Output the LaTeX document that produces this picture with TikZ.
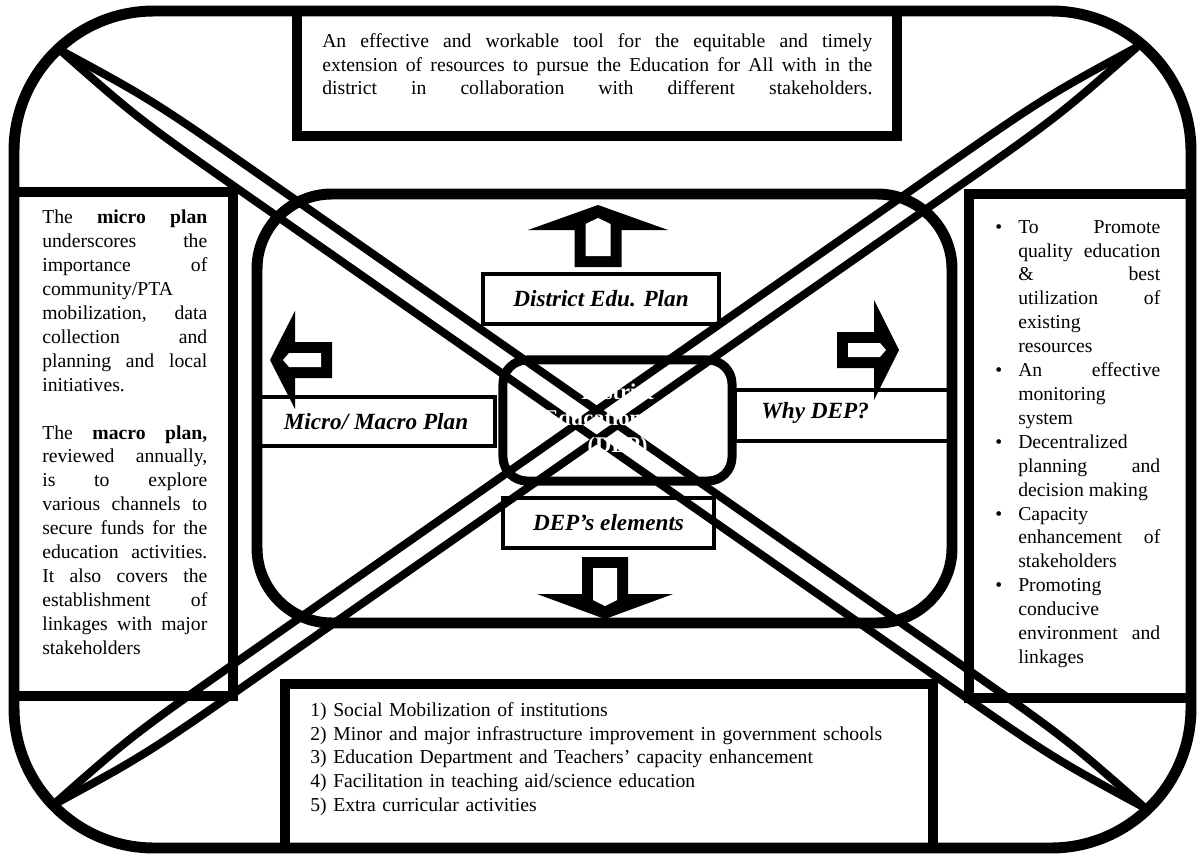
\documentclass[tikz,border=0pt]{standalone}
\usepackage{fontspec}
\setmainfont{Liberation Serif}
\usetikzlibrary{calc, positioning}

% hollow block arrow: tip, rotation, half shaft width, half head width
\newcommand{\blockarrow}[4]{%
  \begin{scope}[shift={(#1)}, rotate=#2]
    \fill (0,0) -- (#4,25) -- (#3,25) -- (#3,62) -- (-#3,62) -- (-#3,25) -- (-#4,25) -- cycle;
    \pgfmathsetmacro{\hollow}{#3-11}
    \fill[white] (-\hollow,51) -- (-\hollow,19) -- (0,13) -- (\hollow,19) -- (\hollow,51) -- cycle;
  \end{scope}}

% bullet line with hanging indent
\newcommand{\bitem}{\par\hangindent=0.575cm\hangafter=1\noindent\makebox[0.575cm][l]{\textbullet}}

\begin{document}
\begin{tikzpicture}[
    x=0.025cm, y=-0.025cm,
    % Define styles for the frames and text
    frame/.style={line width=7.8pt},
    band/.style={line width=5.7pt},
    labelbox/.style={draw, line width=2.8pt, inner sep=0pt, font=\fontsize{16.5}{19}\selectfont\bfseries\itshape},
    labeltext/.style={inner sep=0pt, font=\fontsize{16.5}{19}\selectfont\bfseries\itshape},
    bodytext/.style={anchor=north west, inner sep=0pt, align=justify, font=\fontsize{14}{17}\selectfont},
    hub/.style={draw, line width=6.4pt, rounded corners=0.6cm, minimum width=5.725cm, minimum height=3.025cm,
      align=center, text=white, font=\fontsize{16}{19}\selectfont\bfseries}
]
    \useasboundingbox (0,0) rectangle (1198,854);

    % Outer frame and the four boxes
    \draw[frame, rounded corners=3.5cm] (14,11) rectangle (1191,848);
    \draw[frame] (297,11) rectangle (897,136);
    \draw[frame] (14,192) rectangle (233,696);
    \draw[frame] (969,194) rectangle (1191,698);
    \draw[frame] (285,684) rectangle (933,848);
    \draw[frame, rounded corners=1.875cm] (257,194) rectangle (952,623);

    % Texts of the boxes
    \node[bodytext, text width=13.75cm] (purpose) at (322,33) {%
      An effective and workable tool for the equitable and timely\linebreak
      extension of resources to pursue the Education for All with in the\linebreak
      district in collaboration with different stakeholders.{\parfillskip=0pt\par}};

    \node[bodytext, text width=4.125cm] (plans) at (42,210) {%
      The \textbf{micro plan}\linebreak underscores the\linebreak importance of\linebreak
      community/PTA\linebreak mobilization, data\linebreak collection and\linebreak
      planning and local\linebreak initiatives.\par\vskip 17pt
      The \textbf{macro plan,}\linebreak reviewed annually,\linebreak is to explore\linebreak
      various channels to\linebreak secure funds for the\linebreak education activities.\linebreak
      It also covers the\linebreak establishment of\linebreak linkages with major\linebreak
      stakeholders};

    \node[bodytext, text width=4.125cm] (reasons) at (995,209) {%
      \bitem To Promote\linebreak quality education\linebreak \& best\linebreak
        utilization of\linebreak existing\linebreak resources
      \bitem An effective\linebreak monitoring\linebreak system
      \bitem Decentralized\linebreak planning and\linebreak decision making
      \bitem Capacity\linebreak enhancement of\linebreak stakeholders
      \bitem Promoting\linebreak conducive\linebreak environment and\linebreak linkages\par};

    \node[bodytext, align=left, text width=15.5cm] (elementlist) at (310,702) {%
      \makebox[0.575cm][l]{1)}Social Mobilization of institutions\\
      \makebox[0.575cm][l]{2)}Minor and major infrastructure improvement in government schools\\
      \makebox[0.575cm][l]{3)}Education Department and Teachers’ capacity enhancement\\
      \makebox[0.575cm][l]{4)}Facilitation in teaching aid/science education\\
      \makebox[0.575cm][l]{5)}Extra curricular activities};

    % Labels round the centre
    \node[labelbox, minimum width=5.9cm, minimum height=1.25cm] (plan) at (601,299) {District Edu. Plan};
    \node[labelbox, minimum width=5.95cm, minimum height=1.225cm] (micro) at (376,421.5) {Micro/ Macro Plan};
    \node[labelbox, minimum width=5.375cm, minimum height=1.275cm] (whybox) at (842.5,415.5) {};
    \node[labeltext, anchor=west] (why) at (761,413) {Why DEP?};
    \node[labelbox, minimum width=5.275cm, minimum height=1.25cm] (elements) at (608.5,523) {DEP’s elements};

    % Arrows pointing out of the centre
    \blockarrow{598,205}{0}{23.5}{70}
    \blockarrow{605,619}{180}{23}{68}
    \blockarrow{270,360}{90}{18}{49}
    \blockarrow{899,350}{-90}{18}{50}

    % The crossing bands
    \coordinate (nw) at (60,50);
    \coordinate (se) at (1145,808);
    \coordinate (sw) at (53,805);
    \coordinate (ne) at (1137,47);
    \foreach \a/\b in {nw/se, sw/ne} {
      \draw[band] (\a) .. controls ($(\a)!0.08!(\b)!0.3cm!90:(\b)$) .. ($(\a)!0.2!(\b)!0.3cm!90:(\b)$)
        -- ($(\b)!0.2!(\a)!0.3cm!-90:(\a)$) .. controls ($(\b)!0.08!(\a)!0.3cm!-90:(\a)$) .. (\b);
      \draw[band] (\a) .. controls ($(\a)!0.08!(\b)!0.3cm!-90:(\b)$) .. ($(\a)!0.2!(\b)!0.3cm!-90:(\b)$)
        -- ($(\b)!0.2!(\a)!0.3cm!90:(\a)$) .. controls ($(\b)!0.08!(\a)!0.3cm!90:(\a)$) .. (\b);
    }

    % Centre node with its white title
    \node[hub] (dep) at (617.5,420.5) {District\\Education Plan\\(DEP)};
\end{tikzpicture}
\end{document}
